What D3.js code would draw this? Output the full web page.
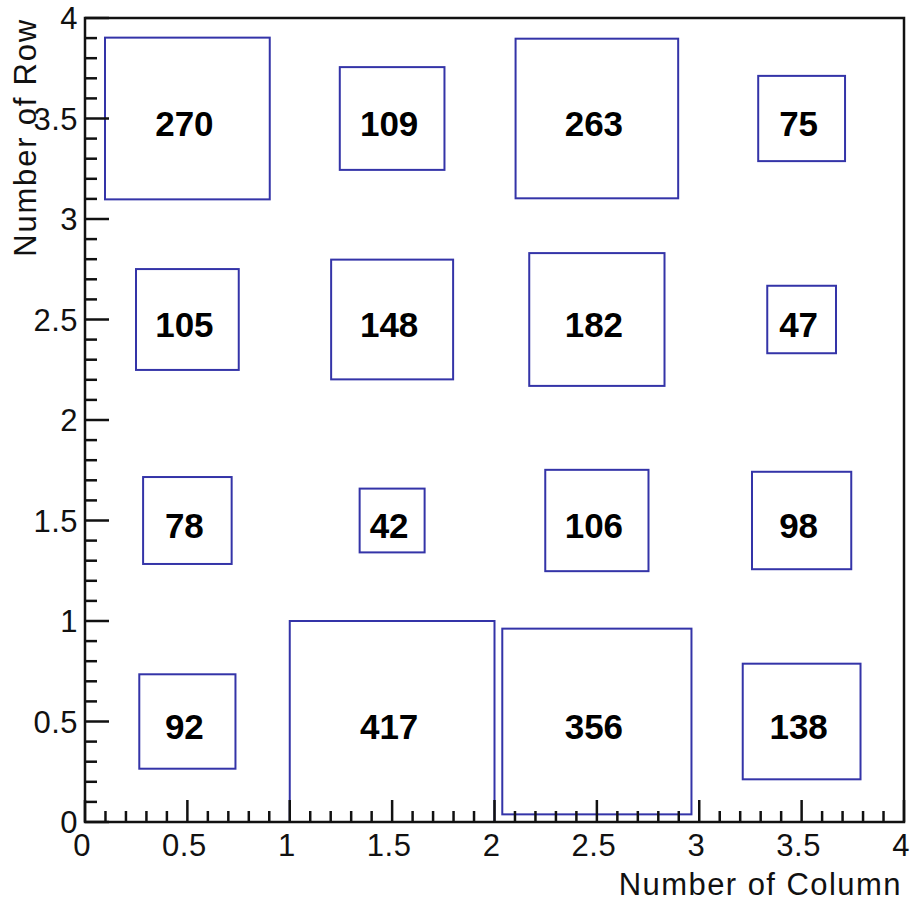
<!DOCTYPE html>
<html>
<head>
<meta charset="utf-8">
<script src="https://cdn.jsdelivr.net/npm/d3@7"></script>
<style>
  html, body { margin: 0; padding: 0; background: #fff; }
  svg { display: block; }
  text { font-family: "Liberation Sans", Arial, Helvetica, sans-serif; }
</style>
</head>
<body>
<svg id="chart" width="913" height="901"></svg>
<script>
// Bin edges along each axis (4 columns x 4 rows, unit width)
const columnEdges = [0, 1, 2, 3, 4];
const rowEdges = [0, 1, 2, 3, 4];

// Bin contents, one array per row (bottom row first), columns left to right
const row0 = [92, 417, 356, 138];
const row1 = [78, 42, 106, 98];
const row2 = [105, 148, 182, 47];
const row3 = [270, 109, 263, 75];
const rows = [row0, row1, row2, row3];

const xTickLabels = ["0", "0.5", "1", "1.5", "2", "2.5", "3", "3.5", "4"];
const yTickLabels = ["0", "0.5", "1", "1.5", "2", "2.5", "3", "3.5", "4"];
const xTitle = "Number of Column";
const yTitle = "Number of Row";

const frameLeft = 85, frameRight = 904, frameTop = 18, frameBottom = 822;
const svg = d3.select("#chart");

const x = d3.scaleLinear().domain([0, 4]).range([frameLeft, frameRight]);
const y = d3.scaleLinear().domain([0, 4]).range([frameBottom, frameTop]);

// Flatten bins
const cells = [];
rows.forEach((r, ri) => r.forEach((v, ci) => cells.push({
  x0: columnEdges[ci], x1: columnEdges[ci + 1],
  y0: rowEdges[ri], y1: rowEdges[ri + 1], v
})));
const zmax = d3.max(cells, d => d.v);

// Box side scales with sqrt of content relative to the maximum
const boxG = svg.append("g");
cells.forEach(c => {
  const f = Math.sqrt(c.v / zmax);
  const cx = (c.x0 + c.x1) / 2, cy = (c.y0 + c.y1) / 2;
  const hw = (c.x1 - c.x0) * f / 2, hh = (c.y1 - c.y0) * f / 2;
  boxG.append("rect")
    .attr("x", x(cx - hw))
    .attr("y", y(cy + hh))
    .attr("width", x(cx + hw) - x(cx - hw))
    .attr("height", y(cy - hh) - y(cy + hh))
    .attr("fill", "none")
    .attr("stroke", "#3434a8")
    .attr("stroke-width", 2);
});

// Frame
svg.append("rect")
  .attr("x", frameLeft).attr("y", frameTop)
  .attr("width", frameRight - frameLeft).attr("height", frameBottom - frameTop)
  .attr("fill", "none").attr("stroke", "#111").attr("stroke-width", 2.5);

// X axis: major ticks every 0.5, minor every 0.1
const xMinor = d3.range(0, 40.01, 1).map(i => i / 10);
svg.append("g").selectAll("line").data(xMinor).join("line")
  .attr("x1", d => x(d)).attr("x2", d => x(d))
  .attr("y1", frameBottom)
  .attr("y2", (d, i) => frameBottom - (i % 5 === 0 ? 22 : 11))
  .attr("stroke", "#111").attr("stroke-width", 2.5);

svg.append("g").selectAll("text").data(xTickLabels).join("text")
  .attr("x", (d, i) => x(i * 0.5) - 3)
  .attr("y", 856)
  .attr("text-anchor", "middle")
  .attr("font-size", 31)
  .attr("letter-spacing", 0.5)
  .attr("fill", "#111")
  .text(d => d);

// Y axis
const yMinor = d3.range(0, 40.01, 1).map(i => i / 10);
svg.append("g").selectAll("line").data(yMinor).join("line")
  .attr("y1", d => y(d)).attr("y2", d => y(d))
  .attr("x1", frameLeft)
  .attr("x2", (d, i) => frameLeft + (i % 5 === 0 ? 24 : 12))
  .attr("stroke", "#111").attr("stroke-width", 2.5);

svg.append("g").selectAll("text").data(yTickLabels).join("text")
  .attr("x", 78)
  .attr("y", (d, i) => y(i * 0.5) + 11)
  .attr("text-anchor", "end")
  .attr("font-size", 31)
  .attr("letter-spacing", 0.5)
  .attr("fill", "#111")
  .text(d => d);

// Axis titles
svg.append("text")
  .attr("x", 902).attr("y", 895)
  .attr("text-anchor", "end")
  .attr("font-size", 31)
  .attr("letter-spacing", 1.45)
  .attr("fill", "#111")
  .text(xTitle);

svg.append("text")
  .attr("transform", "translate(36,18) rotate(-90)")
  .attr("text-anchor", "end")
  .attr("font-size", 31)
  .attr("letter-spacing", 1.8)
  .attr("fill", "#111")
  .text(yTitle);

// Bin content labels
svg.append("g").selectAll("text").data(cells).join("text")
  .attr("x", d => x((d.x0 + d.x1) / 2) - 3)
  .attr("y", d => y((d.y0 + d.y1) / 2) + 17)
  .attr("text-anchor", "middle")
  .attr("font-size", 35)
  .attr("font-weight", "bold")
  .attr("fill", "#000")
  .text(d => d.v);
</script>
</body>
</html>
